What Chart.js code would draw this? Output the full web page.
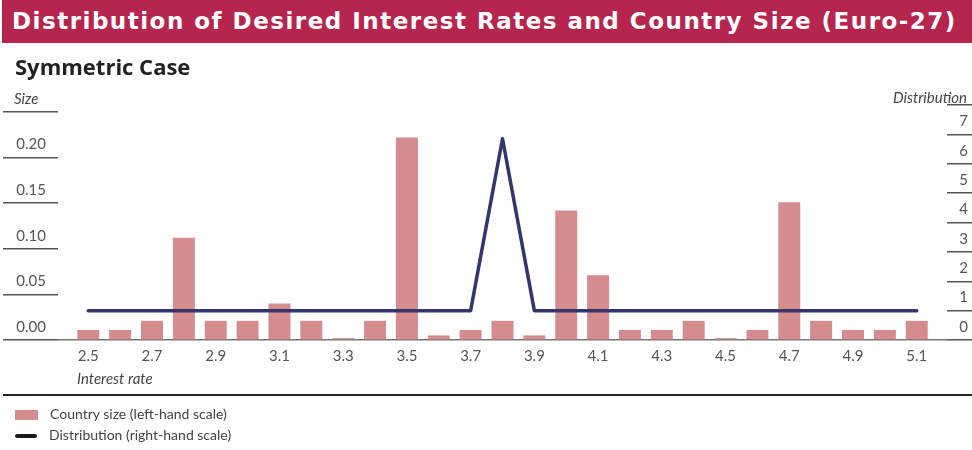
<!DOCTYPE html>
<html>
<head>
<meta charset="utf-8">
<script src="https://cdn.jsdelivr.net/npm/chart.js@4"></script>
<style>
  html, body { margin: 0; padding: 0; background: #fff; }
  #wrap { position: relative; width: 972px; height: 450px; overflow: hidden; font-family: 'Lato', sans-serif; }
  #chart { position: absolute; left: 0; top: 0; }
  .banner {
    position: absolute; left: 2px; top: 0; width: 970px; height: 43px;
    background: #B5254E; color: #fff;
    font: bold 23px 'DejaVu Sans', sans-serif; letter-spacing: 1.5px;
    line-height: 43px; padding-left: 10px; box-sizing: border-box; white-space: nowrap;
  }
  .sub { position: absolute; left: 15px; top: 51px; font: bold 22px 'Open Sans', sans-serif; color: #222; }
  .lbl { position: absolute; font: italic 15px 'Lato', sans-serif; color: #444; white-space: nowrap; }
  .rule { position: absolute; left: 3px; top: 394px; width: 969px; height: 1.5px; background: #222; }
  .leg { position: absolute; left: 15px; font: 14px 'Lato', sans-serif; color: #444; white-space: nowrap; }
  .leg .sw { display: inline-block; vertical-align: middle; margin-right: 12px; }
</style>
</head>
<body>
<div id="wrap">
  <canvas id="chart" width="972" height="450"></canvas>
  <div class="banner">Distribution of Desired Interest Rates and Country Size (Euro-27)</div>
  <div class="sub">Symmetric Case</div>
  <div class="lbl" style="left:14px; top:89px;">Size</div>
  <div class="lbl" style="right:5px; top:88px;">Distribution</div>
  <div class="lbl" style="left:77px; top:369px;">Interest rate</div>
  <div class="rule"></div>
  <div class="leg" style="top:405px;"><span class="sw" style="width:23px;height:10px;background:#D48C8F;"></span>Country size (left-hand scale)</div>
  <div class="leg" style="top:426px;"><span class="sw" style="width:22px;height:4px;border-radius:2px;background:#1a1a1a;"></span>Distribution (right-hand scale)</div>
</div>
<script>
// interest rate categories (x)
const rates = [2.5, 2.6, 2.7, 2.8, 2.9, 3.0, 3.1, 3.2, 3.3, 3.4, 3.5, 3.6, 3.7, 3.8,
               3.9, 4.0, 4.1, 4.2, 4.3, 4.4, 4.5, 4.6, 4.7, 4.8, 4.9, 5.0, 5.1];
// country size, left-hand scale
const countrySize = [0.011, 0.011, 0.021, 0.112, 0.021, 0.021, 0.040, 0.021, 0.002, 0.021,
                     0.222, 0.005, 0.011, 0.021, 0.005, 0.142, 0.071, 0.011, 0.011, 0.021,
                     0.002, 0.011, 0.151, 0.021, 0.011, 0.011, 0.021];
// distribution, right-hand scale
const distribution = [1, 1, 1, 1, 1, 1, 1, 1, 1, 1, 1, 1, 1, 6.85,
                      1, 1, 1, 1, 1, 1, 1, 1, 1, 1, 1, 1, 1];
// labelled x ticks
const xTicks = [2.5, 2.7, 2.9, 3.1, 3.3, 3.5, 3.7, 3.9, 4.1, 4.3, 4.5, 4.7, 4.9, 5.1];

const pink = '#D48C8F';
const navy = '#34366B';
const tickCol = '#555';
const tickFont = { family: "'Lato', sans-serif", size: 15 };

new Chart(document.getElementById('chart'), {
    type: 'bar',
    data: {
        datasets: [
            {
                type: 'line',
                label: 'Distribution (right-hand scale)',
                data: rates.map((r, i) => ({ x: r, y: distribution[i] })),
                yAxisID: 'y2',
                borderColor: navy,
                borderWidth: 3.5,
                borderCapStyle: 'round',
                borderJoinStyle: 'round',
                pointRadius: 0,
                tension: 0,
                order: 0,
            },
            {
                label: 'Country size (left-hand scale)',
                data: rates.map((r, i) => ({ x: r, y: countrySize[i] })),
                yAxisID: 'y',
                backgroundColor: pink,
                categoryPercentage: 1,
                barPercentage: 0.69,
                order: 1,
            }
        ]
    },
    options: {
        responsive: false,
        animation: false,
        layout: { padding: { left: 3, right: 4, top: 105, bottom: 70 } },
        plugins: { legend: { display: false }, tooltip: { enabled: false } },
        scales: {
            x: {
                type: 'linear',
                offset: false,
                min: 2.405,
                max: 5.195,
                grid: { display: false, drawTicks: false },
                border: { display: true, color: '#777', width: 1.5 },
                afterBuildTicks: s => { s.ticks = xTicks.map(v => ({ value: v })); },
                afterFit: s => { s.height = 40; },
                ticks: {
                    autoSkip: false,
                    maxRotation: 0,
                    padding: 7,
                    color: tickCol,
                    font: tickFont,
                    callback: v => Number(v).toFixed(1)
                }
            },
            y: {
                position: 'left',
                min: 0,
                max: 0.2575,
                grid: { drawOnChartArea: false, drawTicks: true, tickLength: 55, color: '#555', lineWidth: 1.5 },
                border: { display: false },
                afterFit: s => { s.width = 55; },
                ticks: {
                    stepSize: 0.05,
                    includeBounds: false,
                    crossAlign: 'near',
                    padding: -43,
                    labelOffset: -13,
                    color: tickCol,
                    font: tickFont,
                    callback: v => v > 0.24 ? '' : Number(v).toFixed(2)
                }
            },
            y2: {
                position: 'right',
                min: 0,
                max: 8,
                grid: { drawOnChartArea: false, drawTicks: true, tickLength: 25, color: '#555', lineWidth: 1.5 },
                border: { display: false },
                afterFit: s => { s.width = 21; },
                ticks: {
                    stepSize: 1,
                    crossAlign: 'far',
                    labelOffset: -13,
                    color: tickCol,
                    font: tickFont,
                    callback: v => v >= 8 ? '' : v
                }
            }
        }
    }
});
</script>
</body>
</html>
